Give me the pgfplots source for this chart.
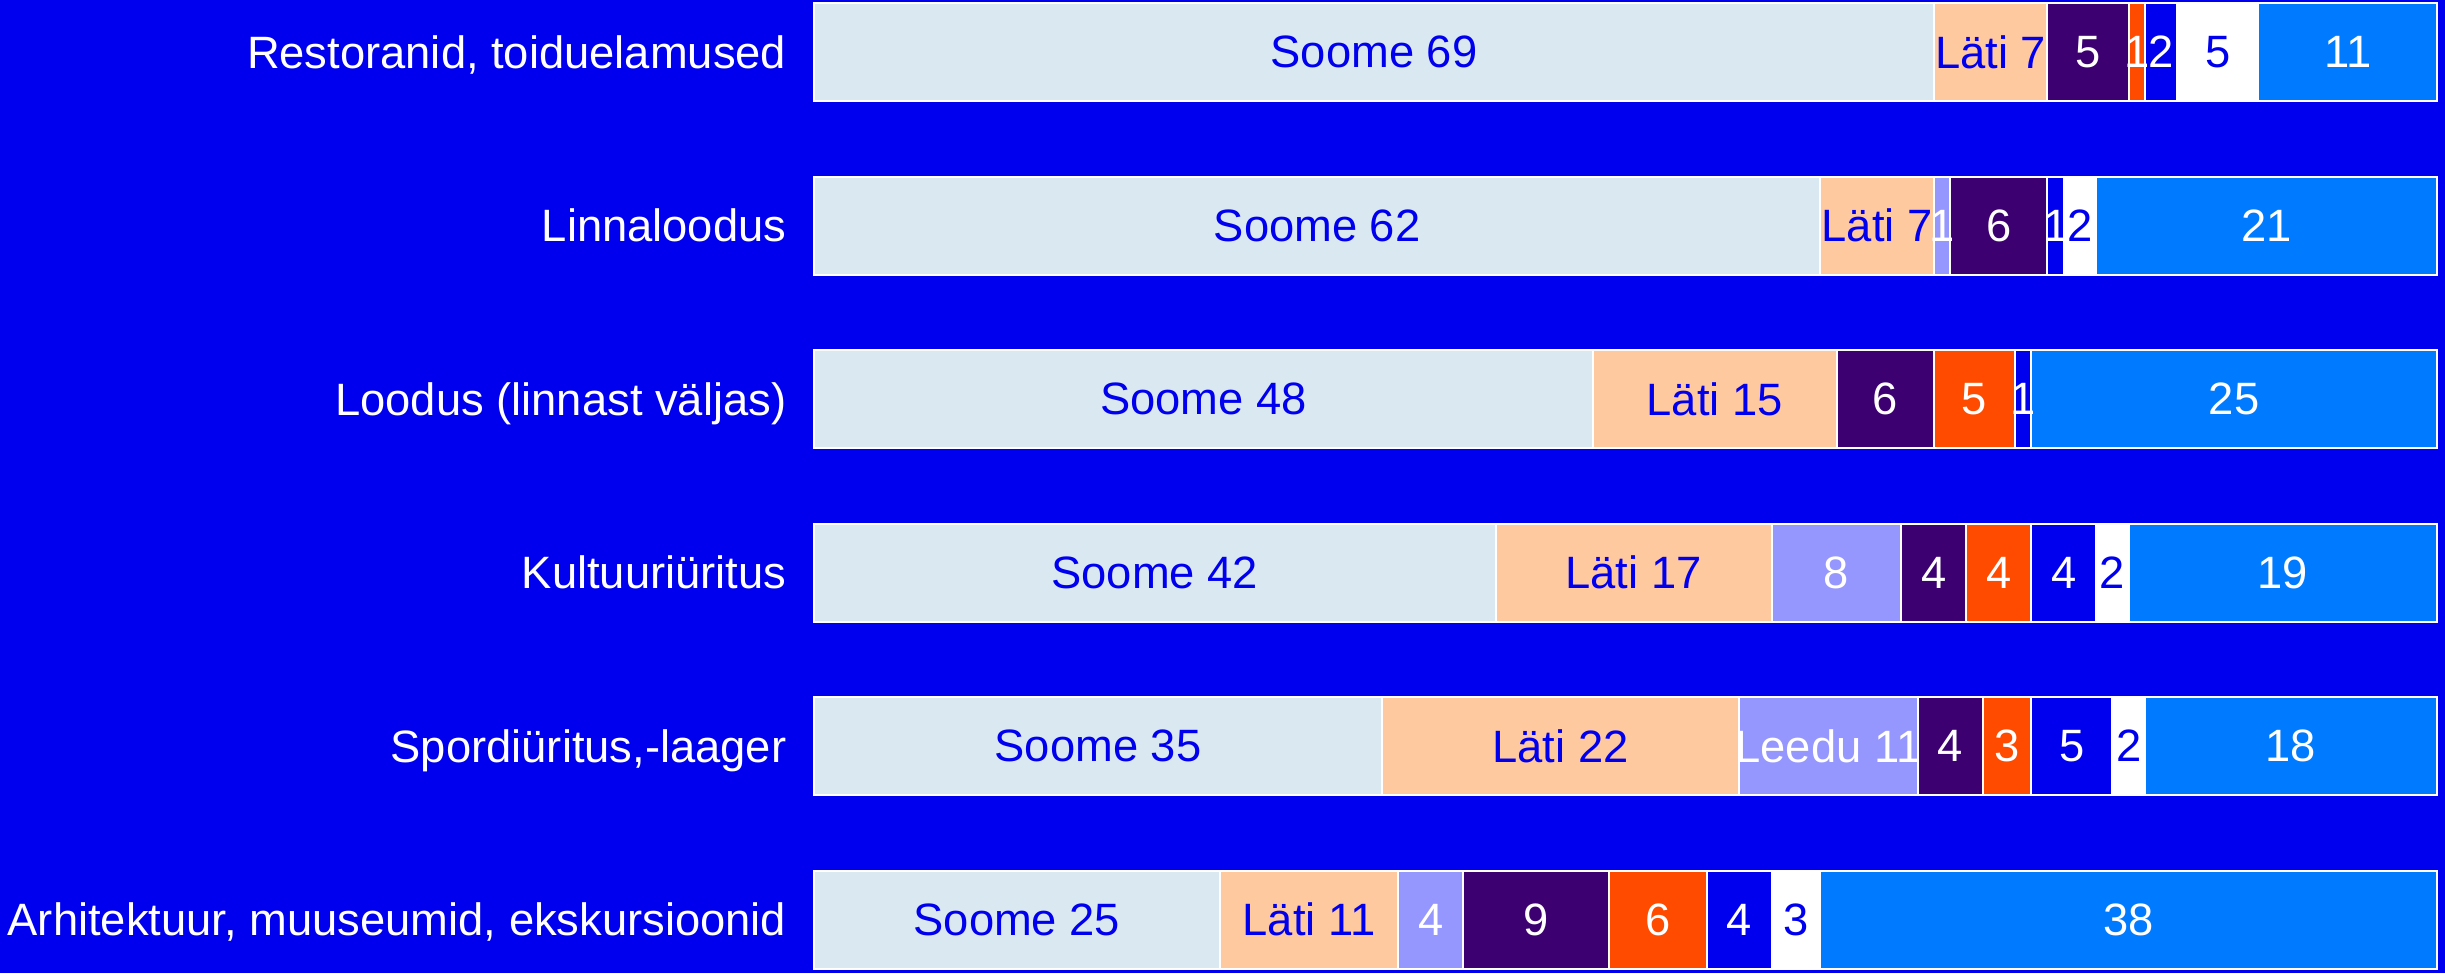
\documentclass[border=0pt]{standalone}
\usepackage{pgfplots}
\pgfplotsset{compat=1.18}
\usepackage{pgfplotstable}
\usepackage{fontspec}
\setmainfont{Liberation Sans}
\definecolor{bg}{HTML}{0000EE}
\definecolor{soome}{HTML}{DAE8F2}
\definecolor{lati}{HTML}{FFC9A0}
\definecolor{leedu}{HTML}{9696FF}
\definecolor{cpurple}{HTML}{3C0071}
\definecolor{corange}{HTML}{FF4B00}
\definecolor{cblue}{HTML}{0000EE}
\definecolor{clight}{HTML}{007BFF}

\pgfplotstableread{
y soome lati leedu purple orange blue white light
0 69 7 0 5 1 2 5 11
1 62 7 1 6 0 1 2 21
2 48 15 0 6 5 1 0 25
3 42 17 8 4 4 4 2 19
4 35 22 11 4 3 5 2 18
5 25 11 4 9 6 4 3 38
}\data

\pgfplotstableread[col sep=comma]{
x,y,label
34.5,0,Soome 69
72.5,0,Läti 7
86.5,0,5
31,1,Soome 62
65.5,1,Läti 7
78,1,2
24,2,Soome 48
55.5,2,Läti 15
21,3,Soome 42
50.5,3,Läti 17
80,3,2
17.5,4,Soome 35
46,4,Läti 22
81,4,2
12.5,5,Soome 25
30.5,5,Läti 11
60.5,5,3
}\bluelabels

\pgfplotstableread[col sep=comma]{
x,y,label
78.5,0,5
81.5,0,1
83,0,2
94.5,0,11
69.5,1,1
73,1,6
76.5,1,1
89.5,1,21
66,2,6
71.5,2,5
74.5,2,1
87.5,2,25
63,3,8
69,3,4
73,3,4
77,3,4
90.5,3,19
62.5,4,Leedu 11
70,4,4
73.5,4,3
77.5,4,5
91,4,18
38,5,4
44.5,5,9
52,5,6
57,5,4
81,5,38
}\whitelabels

\begin{document}
\fontsize{13.6}{16}\selectfont
\begin{tikzpicture}
\fill[bg] (0,0) rectangle (733.5pt,291.9pt);
\pgfplotsset{
  common/.style={
    at={(244.2pt,0pt)}, anchor=south west,
    scale only axis, width=486.9pt, height=291.9pt,
    xmin=0, xmax=100, ymin=-0.2997, ymax=5.3084,
    y dir=reverse, clip=false,
  }
}
\begin{axis}[common,
  xbar stacked, bar width=29.4pt,
  axis line style={draw=none}, tick style={draw=none},
  major tick length=0pt,
  xtick=\empty,
  ytick={0,1,2,3,4,5},
  yticklabels={{Restoranid, toiduelamused},Linnaloodus,{Loodus (linnast väljas)},Kultuuriüritus,{Spordiüritus,-laager},{Arhitektuur, muuseumid, ekskursioonid}},
  yticklabel style={anchor=east, inner sep=0pt, xshift=-8.1pt, text=white, font=\fontsize{13.6}{16}\selectfont, text depth=0pt},
  every axis plot/.append style={draw=white, line width=0.6pt},
]
\addplot[fill=soome] table[x=soome,y=y]{\data};
\addplot[fill=lati] table[x=lati,y=y]{\data};
\addplot[fill=leedu] table[x=leedu,y=y]{\data};
\addplot[fill=cpurple] table[x=purple,y=y]{\data};
\addplot[fill=corange] table[x=orange,y=y]{\data};
\addplot[fill=cblue] table[x=blue,y=y]{\data};
\addplot[fill=white] table[x=white,y=y]{\data};
\addplot[fill=clight] table[x=light,y=y]{\data};
\end{axis}
\begin{axis}[common, hide axis]
\addplot[only marks, mark=none, nodes near coords, point meta=explicit symbolic,
  every node near coord/.style={anchor=center, inner sep=0pt, text=bg, font=\fontsize{13.6}{16}\selectfont}]
  table[x=x, y=y, meta=label]{\bluelabels};
\addplot[only marks, mark=none, nodes near coords, point meta=explicit symbolic,
  every node near coord/.style={anchor=center, inner sep=0pt, text=white, font=\fontsize{13.6}{16}\selectfont}]
  table[x=x, y=y, meta=label]{\whitelabels};
\end{axis}
\end{tikzpicture}
\end{document}
